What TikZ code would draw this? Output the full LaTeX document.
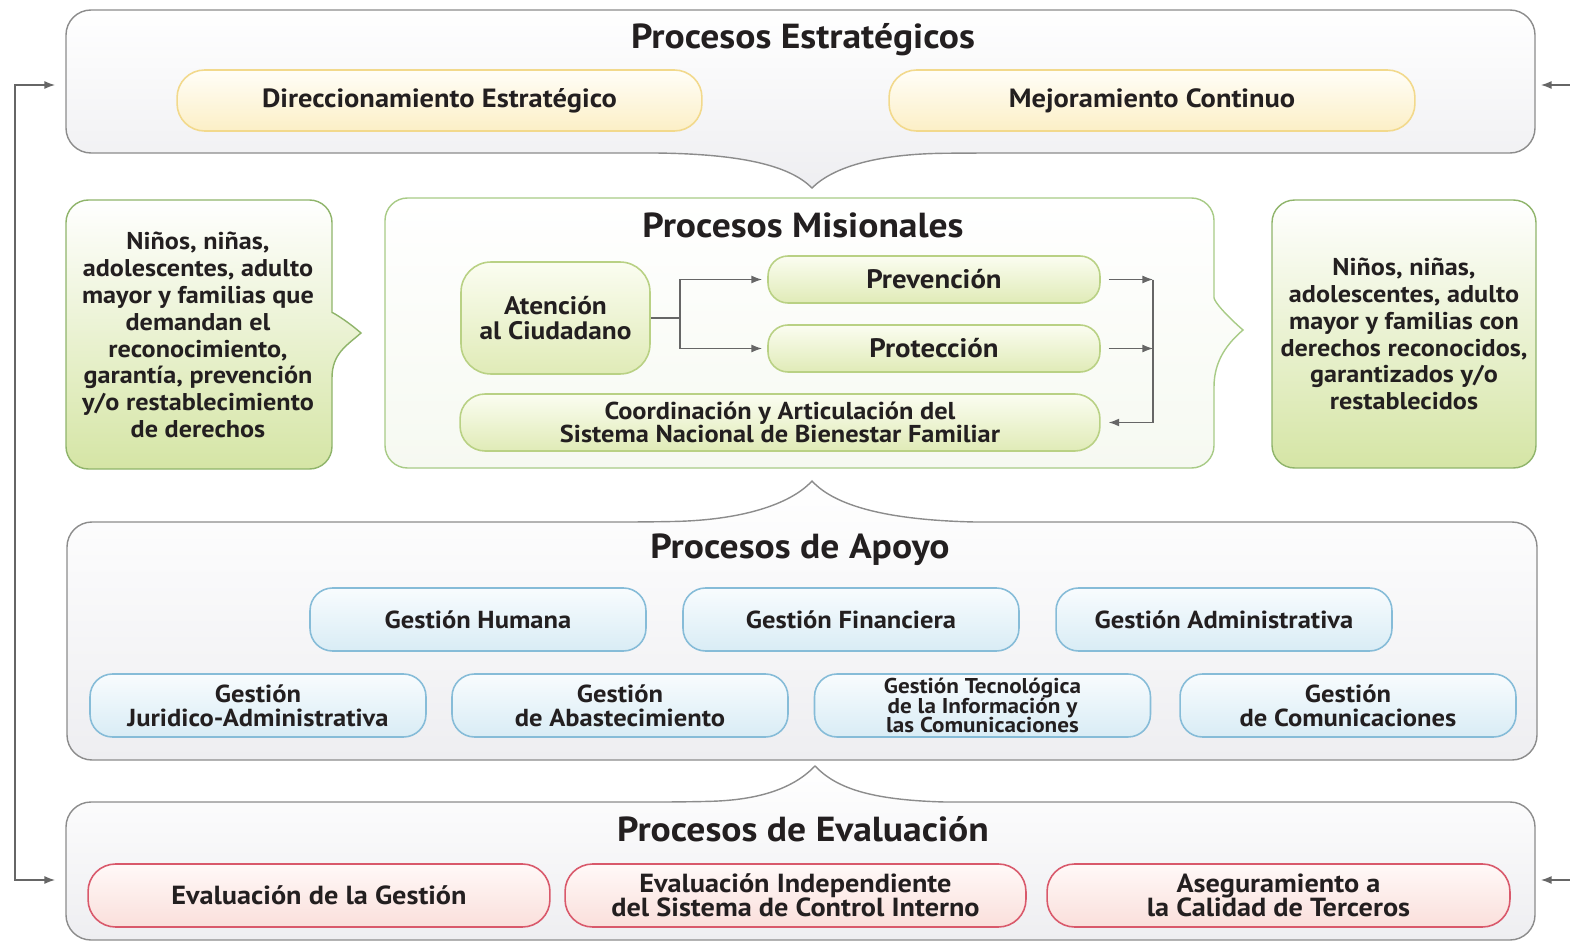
\documentclass[tikz,border=0pt]{standalone}
\usepackage{fontspec}
\setmainfont[FakeStretch=1.08]{PT Sans}
\usetikzlibrary{arrows.meta}
\definecolor{txt}{HTML}{231F20}
\definecolor{panelborder}{HTML}{8C8C8C}
\definecolor{paneltop}{HTML}{FFFFFF}
\definecolor{panelbot}{HTML}{EEEEF1}
\definecolor{yelborder}{HTML}{F2D98C}
\definecolor{yeltop}{HTML}{FFFEF8}
\definecolor{yelbot}{HTML}{FCEFC6}
\definecolor{grnborder}{HTML}{B9D184}
\definecolor{grntop}{HTML}{FBFDF1}
\definecolor{grnbot}{HTML}{E0EBB7}
\definecolor{calborder}{HTML}{8FB46A}
\definecolor{caltop}{HTML}{FFFFFF}
\definecolor{calbot}{HTML}{D5E5A5}
\definecolor{misborder}{HTML}{A8CB86}
\definecolor{misbot}{HTML}{F6F9F1}
\definecolor{bluborder}{HTML}{86BCD8}
\definecolor{blutop}{HTML}{F8FCFE}
\definecolor{blubot}{HTML}{D9ECF5}
\definecolor{redborder}{HTML}{D9596B}
\definecolor{redtop}{HTML}{FFF9F8}
\definecolor{redbot}{HTML}{FADFDB}
\definecolor{arrgray}{HTML}{666666}
\tikzset{
  paneltitle/.style={text=txt, font=\bfseries\fontsize{19.8}{22}\selectfont},
  panelbox/.style={draw=panelborder, line width=0.8pt, top color=paneltop, bottom color=panelbot},
  boxbase/.style={align=center, text=txt, line width=0.9pt, inner sep=0pt},
  yelbox/.style={boxbase, draw=yelborder, top color=yeltop, bottom color=yelbot, rounded corners=0.55cm,
     minimum height=1.22cm, font=\bfseries\fontsize{15}{15}\selectfont},
  grnbox/.style={boxbase, draw=grnborder, top color=grntop, bottom color=grnbot,
     font=\bfseries\fontsize{14.4}{14}\selectfont},
  blubox/.style={boxbase, draw=bluborder, top color=blutop, bottom color=blubot, rounded corners=0.45cm,
     minimum width=6.72cm, minimum height=1.26cm, font=\bfseries\fontsize{14}{13.5}\selectfont},
  redbox/.style={boxbase, draw=redborder, top color=redtop, bottom color=redbot, rounded corners=0.55cm,
     minimum height=1.26cm, font=\bfseries\fontsize{14.9}{13.8}\selectfont},
  caltext/.style={align=center, text=txt, font=\bfseries\fontsize{13.8}{15.3}\selectfont},
  conn/.style={draw=arrgray, line width=0.7pt},
  arr/.style={conn, -{Latex[length=6pt,width=4.5pt]}},
  dblarr/.style={conn, {Latex[length=6pt,width=4.5pt]}-{Latex[length=6pt,width=4.5pt]}},
}
\begin{document}
\lineskiplimit=-30pt
\begin{tikzpicture}[x=0.02cm,y=-0.02cm]
\useasboundingbox (0,0) rectangle (1570,943);

% ---------- Procesos Estrategicos panel ----------
\path[panelbox] (812,188) .. controls (792,168) and (750,154) .. (655,153)
   [rounded corners=0.5cm] -- (66,153) -- (66,10) -- (1535,10) -- (1535,153) -- (970,153)
   [sharp corners] .. controls (874,154) and (832,168) .. (812,188) -- cycle;
\node[paneltitle] (tEst) at (803,40) {Procesos Estratégicos};
\node[yelbox, minimum width=10.5cm] (dir) at (439.5,100.5) {Direccionamiento Estratégico};
\node[yelbox, minimum width=10.52cm] (mej) at (1152,100.5) {Mejoramiento Continuo};

% ---------- Left callout ----------
\path[draw=calborder, line width=0.8pt, top color=caltop, bottom color=calbot]
   (361,333) .. controls (346,346) and (332,354) .. (332,378)
   [rounded corners=0.45cm] -- (332,469) -- (66,469) -- (66,200) -- (332,200) -- (332,290)
   [sharp corners] .. controls (332,312) and (346,320) .. (361,333) -- cycle;
\node[caltext] (inL) at (198,335) {Niños, niñas,\\adolescentes, adulto\\mayor y familias que\\demandan el\\reconocimiento,\\garantía, prevención\\y/o restablecimiento\\de derechos};

% ---------- Misionales panel ----------
\path[draw=misborder, line width=0.8pt, top color=white, bottom color=misbot]
   (1243,330) .. controls (1228,343) and (1214,360) .. (1214,387)
   [rounded corners=0.45cm] -- (1214,468) -- (385,468) -- (385,198) -- (1214,198) -- (1214,275)
   [sharp corners] .. controls (1214,302) and (1228,317) .. (1243,330) -- cycle;
\node[paneltitle] (tMis) at (803,225) {Procesos Misionales};

% ---------- Right callout ----------
\node[draw=calborder, line width=0.8pt, top color=caltop, bottom color=calbot, rounded corners=0.45cm,
      minimum width=5.28cm, minimum height=5.36cm, inner sep=0pt] (outR) at (1404,334) {};
\node[caltext] (outRt) at (1404,334) {Niños, niñas,\\adolescentes, adulto\\mayor y familias con\\derechos reconocidos,\\garantizados y/o\\restablecidos};

% mission boxes
\node[grnbox, minimum width=3.78cm, minimum height=2.24cm, rounded corners=0.6cm] (aten) at (555.5,318) {Atención\\al Ciudadano};
\node[grnbox, minimum width=6.64cm, minimum height=0.94cm, rounded corners=0.4cm, font=\bfseries\fontsize{15.2}{15}\selectfont] (prev) at (934,279.5) {Prevención};
\node[grnbox, minimum width=6.64cm, minimum height=0.94cm, rounded corners=0.4cm, font=\bfseries\fontsize{15.2}{15}\selectfont] (prot) at (934,348.5) {Protección};
\node[grnbox, minimum width=12.8cm, minimum height=1.14cm, rounded corners=0.5cm, font=\bfseries\fontsize{13.9}{13.3}\selectfont] (coord) at (780,422.5) {Coordinación y Articulación del\\Sistema Nacional de Bienestar Familiar};

% connectors in Misionales
\coordinate (j) at (680,318);
\coordinate (rx) at (1153,422.5);
\draw[conn] (aten.east) -- (j);
\draw[arr, shorten >=3pt] (j) |- (prev.west);
\draw[arr, shorten >=3pt] (j) |- (prot.west);
\draw[arr, shorten <=4.5pt] (prev.east) -- (prev.east -| rx);
\draw[arr, shorten <=4.5pt] (prot.east) -- (prot.east -| rx);
\draw[arr, shorten >=4.5pt] (prev.east -| rx) -- (rx) -- (coord.east);

% ---------- Apoyo panel ----------
\path[panelbox] (812,481) .. controls (834,505) and (884,520) .. (975,522)
   [rounded corners=0.5cm] -- (1537,522) -- (1537,760) -- (67,760) -- (67,522) -- (650,522)
   [sharp corners] .. controls (740,520) and (790,505) .. (812,481) -- cycle;
\node[paneltitle] (tApo) at (800,550) {Procesos de Apoyo};
\node[blubox] (gh) at (478,619.5) {Gestión Humana};
\node[blubox] (gf) at (851,619.5) {Gestión Financiera};
\node[blubox] (ga) at (1224,619.5) {Gestión Administrativa};
\node[blubox] (gj) at (258,705.5) {Gestión\\Juridico-Administrativa};
\node[blubox] (gab) at (620,705.5) {Gestión\\de Abastecimiento};
\node[blubox, font=\bfseries\fontsize{12.2}{11.3}\selectfont] (gt) at (982.5,705.5) {Gestión Tecnológica\\de la Información y\\las Comunicaciones};
\node[blubox] (gc) at (1348,705.5) {Gestión\\de Comunicaciones};

% ---------- Evaluacion panel ----------
\path[panelbox] (815,766) .. controls (836,788) and (870,800) .. (945,802)
   [rounded corners=0.5cm] -- (1535,802) -- (1535,940) -- (66,940) -- (66,802) -- (685,802)
   [sharp corners] .. controls (760,800) and (794,788) .. (815,766) -- cycle;
\node[paneltitle] (tEva) at (803,829) {Procesos de Evaluación};
\node[redbox, minimum width=9.24cm] (ev1) at (319,895.5) {Evaluación de la Gestión};
\node[redbox, minimum width=9.22cm] (ev2) at (795.5,895.5) {Evaluación Independiente\\del Sistema de Control Interno};
\node[redbox, minimum width=9.26cm] (ev3) at (1278.5,895.5) {Aseguramiento a\\la Calidad de Terceros};

% ---------- outer feedback arrows ----------
\coordinate (Lt) at (55,85);
\coordinate (Lb) at (55,880);
\coordinate (Lx) at (15,85);
\draw[dblarr] (Lt) -- (Lx) |- (Lb);
\coordinate (Rt) at (1541,85);
\coordinate (Rb) at (1541,880);
\coordinate (Rts) at (1570,85);
\coordinate (Rbs) at (1570,880);
\draw[arr] (Rts) -- (Rt);
\draw[arr] (Rbs) -- (Rb);
\end{tikzpicture}
\end{document}
